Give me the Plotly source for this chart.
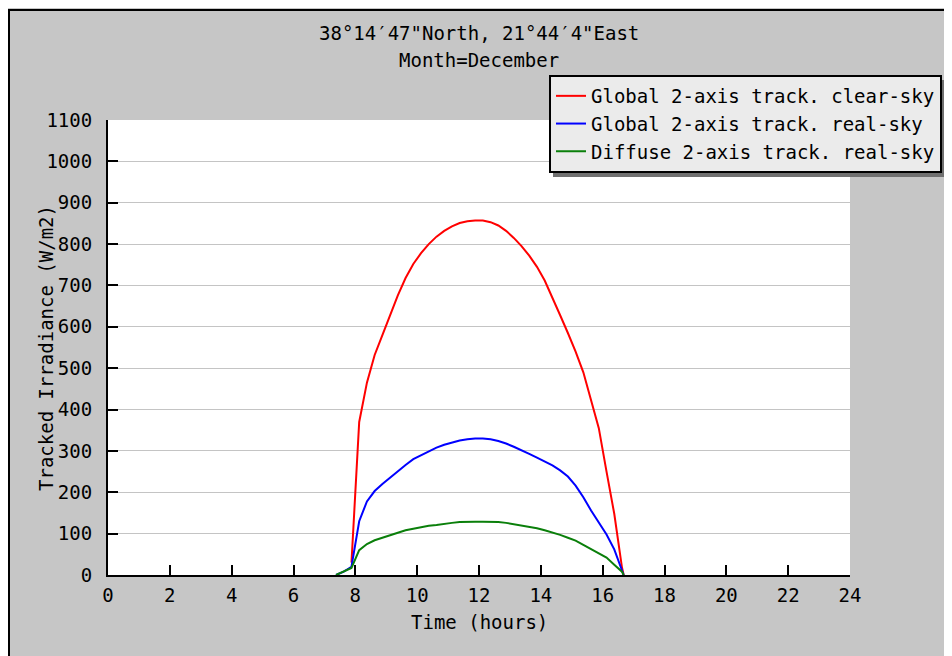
import plotly.graph_objects as go

# ---- data ----
time_h = [7.375, 7.625, 7.875, 8.125, 8.375, 8.625, 8.875, 9.125, 9.375, 9.625,
          9.875, 10.125, 10.375, 10.625, 10.875, 11.125, 11.375, 11.625, 11.875, 12.125,
          12.375, 12.625, 12.875, 13.125, 13.375, 13.625, 13.875, 14.125, 14.375, 14.625,
          14.875, 15.125, 15.375, 15.625, 15.875, 16.125, 16.375, 16.625, 16.68]

global_clear = [None, None, 30, 370, 465, 532, 580, 628, 676, 718,
                752, 778, 800, 818, 832, 843, 851, 855, 857, 857,
                853, 845, 832, 815, 795, 772, 745, 712, 672, 628,
                585, 540, 490, 425, 355, 250, 148, 18, 0]

global_real = [0, 8, 20, 130, 178, 203, 220, 236, 252, 266,
               280, 290, 300, 308, 315, 320, 325, 328, 330, 330,
               328, 324, 318, 310, 302, 293, 284, 275, 265, 253,
               238, 216, 188, 156, 127, 98, 62, 10, 0]

diffuse_real = [0, 8, 17, 60, 75, 84, 90, 96, 102, 108,
                112, 116, 119, 121, 124, 126, 128, 129, 129, 129,
                129, 128, 126, 123, 120, 117, 113, 108, 103, 97,
                90, 83, 73, 62, 52, 42, 25, 8, 0]

series_names = ["Global 2-axis track. clear-sky",
                "Global 2-axis track. real-sky",
                "Diffuse 2-axis track. real-sky"]
series_colors = ["#ff0000", "#0000ff", "#0a7f0a"]

title_lines = ["38°14′47\"North, 21°44′4\"East", "Month=December"]
x_label = "Time (hours)"
y_label = "Tracked Irradiance (W/m2)"
x_ticks = list(range(0, 25, 2))
y_ticks = list(range(0, 1101, 100))

FONT = "DejaVu Sans Mono"
FS = 19
BG = "#c6c6c6"
W, H = 952, 656

# figure-pixel -> paper helpers (plot area 100..842 x 112..567)
L, R, T, B = 100, 842, 112, 567
def px(x):
    return (x - L) / (R - L)
def py(y):
    return (B - y) / (B - T)

fig = go.Figure()
for name, vals, col in zip(series_names, [global_clear, global_real, diffuse_real], series_colors):
    fig.add_trace(go.Scatter(x=time_h, y=vals, mode="lines", name=name,
                             line=dict(color=col, width=2), connectgaps=False))

axis_common = dict(showline=True, linecolor="black", linewidth=2,
                   ticks="inside", ticklen=10, tickwidth=2, tickcolor="black",
                   tickfont=dict(family=FONT, size=FS, color="black"),
                   zeroline=False, mirror=False)

fig.update_xaxes(range=[0, 24], tickvals=x_ticks, showgrid=False,
                 ticklabelstandoff=2, **axis_common)
fig.update_yaxes(range=[0, 1100], tickvals=y_ticks, showgrid=True,
                 gridcolor="#c4c4c4", gridwidth=1, ticklabelstandoff=10,
                 **axis_common)

shapes = [
    # frame lines (top & left)
    dict(type="line", xref="paper", yref="paper", x0=px(1), x1=px(1000), y0=py(2), y1=py(2),
         line=dict(color="black", width=2), layer="below"),
    dict(type="line", xref="paper", yref="paper", x0=px(1), x1=px(1), y0=py(1), y1=py(700),
         line=dict(color="black", width=2), layer="below"),
    # legend shadow
    dict(type="rect", xref="paper", yref="paper", x0=px(545), x1=px(1000), y0=py(169), y1=py(72),
         fillcolor="#707070", line=dict(width=0), layer="above"),
]

annotations = [
    dict(text=title_lines[0], x=px(471), y=py(25), xref="paper", yref="paper",
         showarrow=False, xanchor="center", yanchor="middle",
         font=dict(family=FONT, size=FS, color="black")),
    dict(text=title_lines[1], x=px(471), y=py(52), xref="paper", yref="paper",
         showarrow=False, xanchor="center", yanchor="middle",
         font=dict(family=FONT, size=FS, color="black")),
    dict(text=x_label, x=px(471), y=py(614), xref="paper", yref="paper",
         showarrow=False, xanchor="center", yanchor="middle",
         font=dict(family=FONT, size=FS, color="black")),
    dict(text=y_label, x=px(38), y=py(340), xref="paper", yref="paper",
         showarrow=False, xanchor="center", yanchor="middle", textangle=-90,
         font=dict(family=FONT, size=FS, color="black")),
]

fig.update_layout(
    width=W, height=H,
    margin=dict(l=L, r=W - R, t=T, b=H - B, pad=0, autoexpand=False),
    paper_bgcolor=BG, plot_bgcolor="white",
    font=dict(family=FONT, size=FS, color="black"),
    shapes=shapes, annotations=annotations,
    showlegend=True,
    legend=dict(x=px(541), y=py(67), xanchor="left", yanchor="top",
                bgcolor="#ebebeb", bordercolor="black", borderwidth=2,
                font=dict(family=FONT, size=FS, color="black"),
                tracegroupgap=0),
)

fig.write_html("out.html")
